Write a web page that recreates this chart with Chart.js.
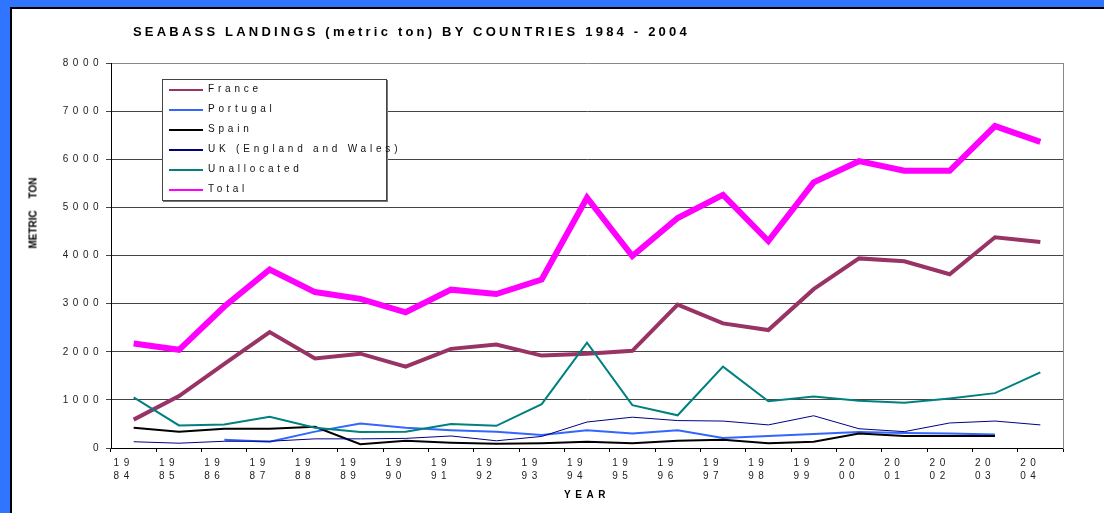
<!DOCTYPE html>
<html>
<head>
<meta charset="utf-8">
<script src="https://cdn.jsdelivr.net/npm/chart.js@4.4.0/dist/chart.umd.min.js"></script>
<style>
  body { margin: 0; width: 1104px; height: 513px; background: #2F75FF; overflow: hidden; font-family: 'Liberation Sans', Arial, sans-serif; }
  #panel { position: absolute; left: 10px; top: 7px; right: 0; bottom: 0; background: #fff; border-left: 2px solid #000; border-top: 2px solid #000; }
  #chartBox { position: absolute; left: 12px; top: 9px; width: 1092px; height: 504px; }
  #title { position: absolute; left: 133px; top: 25px; font-weight: bold; font-size: 13px; line-height: 13px; letter-spacing: 3.2px; white-space: nowrap; color: #000; }
  #ytitle { position: absolute; left: 33px; top: 212.5px; transform: translate(-50%, -50%) rotate(-90deg); font-weight: bold; font-size: 10px; word-spacing: 9px; white-space: nowrap; color: #000; }
  #legend { position: absolute; left: 162px; top: 79px; width: 223px; height: 120px; background: #fff; border: 1px solid #444; box-shadow: 1px 1px 0 #777; }
  .item { height: 20px; display: flex; align-items: center; font-size: 10px; letter-spacing: 3.8px; color: #111; white-space: nowrap; }
  .item span { position: relative; top: -1.5px; }
  .swatch { width: 34px; height: 2px; margin-left: 6px; margin-right: 5px; flex: none; }
</style>
</head>
<body>
<div id="panel"></div>
<div id="chartBox"><canvas id="landingsChart"></canvas></div>
<div id="title">SEABASS LANDINGS (metric ton) BY COUNTRIES 1984 - 2004</div>
<div id="ytitle">METRIC TON</div>
<div id="legend"></div>
<script>
const YEARS = ['1984', '1985', '1986', '1987', '1988', '1989', '1990', '1991', '1992', '1993', '1994',
    '1995', '1996', '1997', '1998', '1999', '2000', '2001', '2002', '2003', '2004'];

const FRANCE = [590, 1080, 1750, 2410, 1860, 1960, 1690, 2060, 2150, 1920, 1960, 2020, 2980, 2590, 2450, 3300, 3940, 3880, 3610, 4380, 4280];
const PORTUGAL = [null, null, 170, 130, 340, 510, 420, 370, 340, 270, 370, 300, 370, 210, 250, 290, 330, 310, 300, 280, null];
const SPAIN = [420, 340, 400, 400, 440, 80, 150, 110, 90, 100, 130, 100, 150, 170, 100, 130, 300, 250, 250, 250, null];
const UK_EW = [130, 100, 140, 140, 190, 190, 200, 250, 150, 240, 540, 640, 570, 560, 480, 670, 400, 340, 520, 560, 480];
const UNALLOCATED = [1050, 470, 490, 650, 420, 330, 340, 500, 460, 910, 2190, 890, 680, 1690, 970, 1070, 980, 940, 1030, 1140, 1570];
const TOTAL = [2170, 2040, 2940, 3710, 3240, 3100, 2820, 3290, 3200, 3500, 5200, 3990, 4780, 5260, 4300, 5520, 5960, 5760, 5760, 6690, 6360];

const SERIES = [
    { label: 'France', data: FRANCE, color: '#993366', width: 4 },
    { label: 'Portugal', data: PORTUGAL, color: '#3366FF', width: 2 },
    { label: 'Spain', data: SPAIN, color: '#000000', width: 2 },
    { label: 'UK (England and Wales)', data: UK_EW, color: '#000080', width: 1 },
    { label: 'Unallocated', data: UNALLOCATED, color: '#008080', width: 2 },
    { label: 'Total', data: TOTAL, color: '#FF00FF', width: 6 }
];

Chart.defaults.font.family = "'Liberation Sans', Arial, sans-serif";

// Excel-style spaced lettering on the canvas text
const letterSpacing = {
    id: 'letterSpacing',
    beforeLayout(chart) { chart.ctx.letterSpacing = '4.5px'; },
    beforeDraw(chart) { chart.ctx.letterSpacing = '4.5px'; }
};

const datasets = SERIES.map((s, i) => ({
    label: s.label,
    data: s.data,
    borderColor: s.color,
    backgroundColor: s.color,
    borderWidth: s.width,
    pointRadius: 0,
    tension: 0,
    fill: false,
    order: SERIES.length - i
}));

const chart = new Chart(document.getElementById('landingsChart'), {
    type: 'line',
    data: { labels: YEARS.map(y => [y.slice(0, 2), y.slice(2)]), datasets },
    options: {
        responsive: true,
        maintainAspectRatio: false,
        animation: false,
        layout: { padding: { left: 0, top: 54, right: 41, bottom: 0 } },
        plugins: {
            legend: { display: false },
            title: { display: false },
            tooltip: { enabled: false }
        },
        scales: {
            x: {
                offset: true,
                grid: { display: true, drawOnChartArea: false, drawTicks: true, tickLength: 4, offset: true, color: '#000' },
                border: { color: '#000' },
                ticks: { color: '#222', font: { size: 10, lineHeight: 1.27 }, padding: 5, labelOffset: -10, maxRotation: 0, autoSkip: false },
                title: { display: true, text: 'YEAR', color: '#000', font: { size: 10, weight: 'bold' }, padding: { top: 0, bottom: 12 } },
                afterFit: s => { s.height = 65; }
            },
            y: {
                min: 0,
                max: 8000,
                ticks: { stepSize: 1000, color: '#222', font: { size: 10 }, padding: 3, callback: v => String(v) },
                grid: {
                    color: c => !c.tick ? '#444' : c.tick.value === 8000 ? '#888' : c.tick.value === 0 ? '#000' : '#444',
                    tickColor: '#444',
                    tickLength: 5
                },
                border: { color: '#000' },
                afterFit: s => { s.width = 99; }
            },
            y2: {
                position: 'right',
                display: true,
                grid: { display: false },
                ticks: { display: false },
                border: { color: '#888' },
                afterFit: s => { s.width = 0; }
            }
        }
    },
    plugins: [letterSpacing]
});

// legend box drawn as HTML from the chart's datasets
const legendEl = document.getElementById('legend');
chart.data.datasets.forEach(ds => {
    const row = document.createElement('div');
    row.className = 'item';
    const sw = document.createElement('div');
    sw.className = 'swatch';
    sw.style.background = ds.borderColor;
    const txt = document.createElement('span');
    txt.textContent = ds.label;
    row.appendChild(sw);
    row.appendChild(txt);
    legendEl.appendChild(row);
});
</script>
</body>
</html>
